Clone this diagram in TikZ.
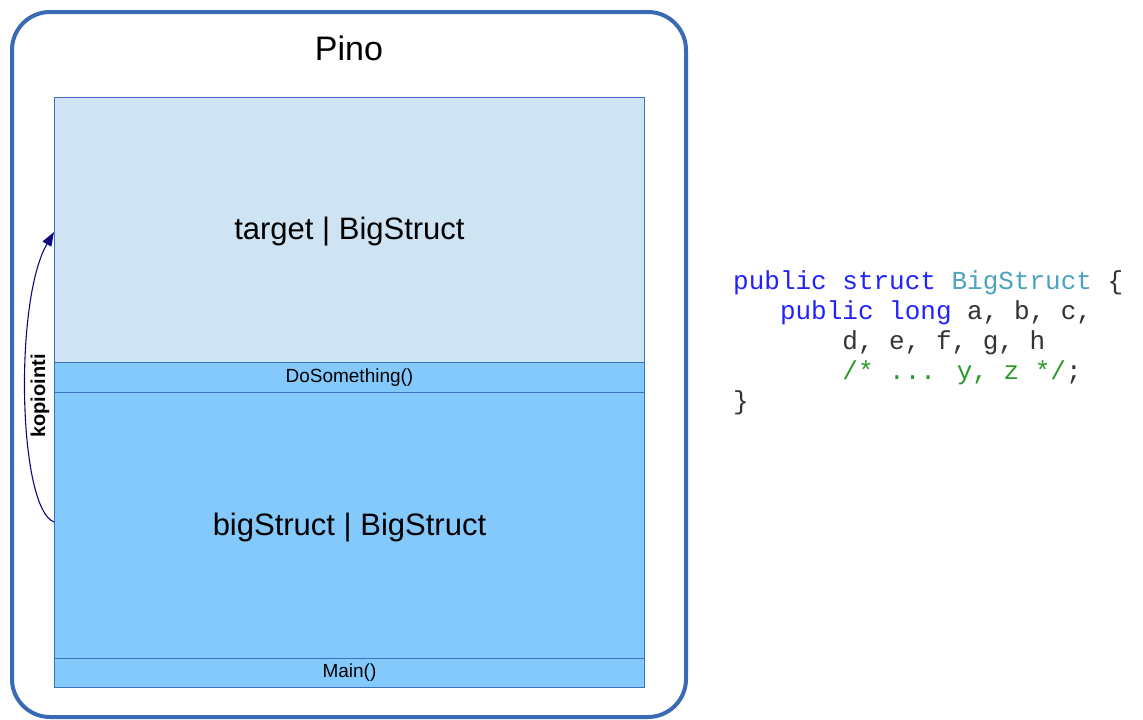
\documentclass[tikz,border=0pt]{standalone}
\usepackage{fontspec}
\setmainfont{Liberation Sans}
\newfontfamily\codefont{Liberation Mono}
\usetikzlibrary{arrows.meta}
\definecolor{frameblue}{HTML}{3A6AB4}
\definecolor{cellborder}{HTML}{3F6FBF}
\definecolor{lightcell}{HTML}{CFE4F3}
\definecolor{darkcell}{HTML}{83C9FC}
\definecolor{kw}{HTML}{2222FF}
\definecolor{typename}{HTML}{4BA3BE}
\definecolor{cmt}{HTML}{2A9A2A}
\definecolor{codetext}{HTML}{333333}
\definecolor{arrowcol}{HTML}{0A0A80}
\tikzset{
  cell/.style={draw=cellborder, line width=0.9pt, inner sep=0pt, minimum width=590pt},
  bigtext/.style={font=\fontsize{31}{34}\selectfont},
  smalltext/.style={font=\fontsize{19}{21}\selectfont},
  codeline/.style={anchor=base west, inner sep=0pt, font=\codefont\fontsize{26}{30}\selectfont, text=codetext},
}
\begin{document}
\begin{tikzpicture}[x=1pt,y=-1pt]
\useasboundingbox (0,0) rectangle (1143,720);
% heap frame
\draw[frameblue, line width=4pt, rounded corners=38pt] (12,12) rectangle (686,717);
\node[font=\fontsize{34}{36}\selectfont] (pino) at (349,48) {Pino};
% stack cells
\node[cell, fill=lightcell, minimum height=265pt, anchor=north west] (target) at (54,97) {};
\node[cell, fill=darkcell, minimum height=30pt, anchor=north west] (dosome) at (54,362) {};
\node[cell, fill=darkcell, minimum height=266pt, anchor=north west] (big) at (54,392) {};
\node[cell, fill=darkcell, minimum height=29pt, anchor=north west] (main) at (54,658) {};
\node[bigtext] at (target.center) [yshift=-2pt] {target | BigStruct};
\node[smalltext] at (dosome.center) {DoSomething()};
\node[bigtext] at (big.center) [yshift=-2pt] {bigStruct | BigStruct};
\node[smalltext] at (main.center) {Main()};
% copy arrow
\coordinate (src) at (54,522);
\coordinate (dst) at (54,232);
\draw[arrowcol, line width=1.1pt, -{Triangle[length=14pt,width=10pt]}]
  (src) .. controls (18,508) and (14,300) .. (dst);
\node[rotate=90, font=\bfseries\fontsize{20}{22}\selectfont, inner sep=1pt] (copy) at (40,396) {kopiointi};
% source code
\node[codeline] (l1) at (733,289) {\textcolor{kw}{public struct} \textcolor{typename}{BigStruct} \{};
\node[codeline] (l2) at (733,319) {\phantom{xxx}\textcolor{kw}{public long} a, b, c,};
\node[codeline] (l3) at (733,349) {\phantom{xxxxxxx}d, e, f, g, h};
\node[codeline] (l4) at (733,379) {\phantom{xxxxxxx}\textcolor{cmt}{/* ... y, z */};};
\node[codeline] (l5) at (733,409) {\}};
\end{tikzpicture}
\end{document}
